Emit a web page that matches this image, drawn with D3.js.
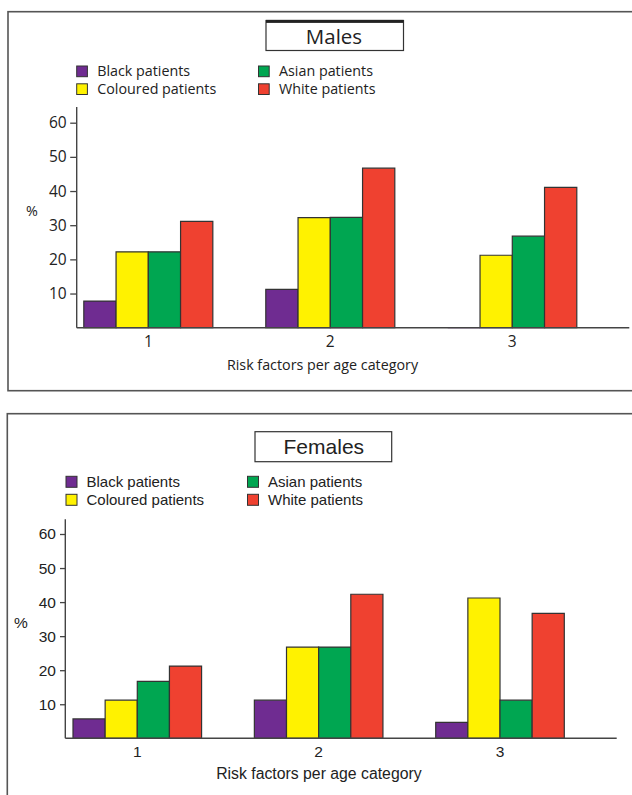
<!DOCTYPE html>
<html>
<head>
<meta charset="utf-8">
<script src="https://cdnjs.cloudflare.com/ajax/libs/d3/7.8.5/d3.min.js"></script>
<style>
  html, body { margin: 0; padding: 0; background: #fff; }
  svg { display: block; }
</style>
</head>
<body>
<svg id="chart" width="632" height="795"></svg>
<script>
// ---- data ----
const categories = ["1", "2", "3"];
const seriesNames = ["Black patients", "Coloured patients", "Asian patients", "White patients"];
const seriesColors = ["#6f2c91", "#fff200", "#00a651", "#ef4130"];
const yTicks = [10, 20, 30, 40, 50, 60];

const malesBlack    = [7.8, 11.2, 0];
const malesColoured = [22.2, 32.2, 21.2];
const malesAsian    = [22.2, 32.3, 26.8];
const malesWhite    = [31.1, 46.7, 41.1];

const femalesBlack    = [5.7, 11.2, 4.7];
const femalesColoured = [11.2, 26.8, 41.2];
const femalesAsian    = [16.7, 26.8, 11.2];
const femalesWhite    = [21.2, 42.3, 36.7];

const axisTitle = "Risk factors per age category";
const yLabel = "%";

// ---- drawing ----
const svg = d3.select("#chart");

function drawPanel(p) {
  const g = svg.append("g");
  const font = p.font;

  // frame (open on the right / bottom as in the original)
  g.append("rect")
    .attr("x", p.frame.x).attr("y", p.frame.y)
    .attr("width", p.frame.w).attr("height", p.frame.h)
    .attr("fill", "none").attr("stroke", "#555").attr("stroke-width", 1.6);

  // title box
  g.append("rect")
    .attr("x", p.title.x).attr("y", p.title.y)
    .attr("width", p.title.w).attr("height", p.title.h)
    .attr("fill", "#fff").attr("stroke", "#333").attr("stroke-width", 1.2);
  if (p.title.bar) {
    g.append("rect")
      .attr("x", p.title.x).attr("y", p.title.y - 0.6)
      .attr("width", p.title.w).attr("height", 3)
      .attr("fill", "#222");
  }
  g.append("text")
    .attr("x", p.title.tx).attr("y", p.title.ty)
    .attr("text-anchor", "middle")
    .attr("font-family", font).attr("font-size", p.title.size)
    .attr("fill", "#222")
    .text(p.title.text);

  // legend
  const legendItems = seriesNames.map((name, i) => ({
    name, color: seriesColors[i],
    col: i < 2 ? 0 : 1, row: i % 2
  }));
  const lg = g.selectAll("g.legend").data(legendItems).join("g")
    .attr("transform", d => `translate(${p.legend.x[d.col]},${p.legend.y[d.row]})`);
  lg.append("rect")
    .attr("x", 0).attr("y", 0)
    .attr("width", p.legend.box).attr("height", p.legend.box)
    .attr("fill", d => d.color).attr("stroke", "#333").attr("stroke-width", 1);
  lg.append("text")
    .attr("x", p.legend.tx).attr("y", p.legend.ty)
    .attr("font-family", font).attr("font-size", p.legend.size)
    .attr("fill", "#222")
    .text(d => d.name);

  // scales
  const x0 = d3.scaleBand().domain(categories)
    .range([p.groupStart, p.groupEnd]).paddingInner(p.padInner).paddingOuter(0);
  const x1 = d3.scaleBand().domain(seriesNames).range([0, x0.bandwidth()]).padding(0);
  const y = d3.scaleLinear().domain([0, 60]).range([p.base, p.top60]);

  // y axis
  const yAxis = g.append("g")
    .attr("transform", `translate(${p.axisX},0)`)
    .call(d3.axisLeft(y).tickValues(yTicks).tickSize(p.tickSize).tickPadding(p.tickPad).tickSizeOuter(0));
  yAxis.select(".domain").remove();
  yAxis.selectAll("line").attr("stroke", "#444").attr("stroke-width", 1.3);
  yAxis.selectAll("text")
    .attr("font-family", font).attr("font-size", p.tickFont).attr("fill", "#222");
  g.append("line")
    .attr("x1", p.axisX).attr("x2", p.axisX)
    .attr("y1", y(0)).attr("y2", p.axisTop)
    .attr("stroke", "#444").attr("stroke-width", 1.4);

  // bars
  const rows = [];
  categories.forEach((c, ci) => {
    p.series.forEach((vals, si) => {
      rows.push({ cat: c, name: seriesNames[si], color: seriesColors[si], value: vals[ci] });
    });
  });
  g.selectAll("path.bar").data(rows).join("path")
    .attr("class", "bar")
    .attr("d", d => {
      const xa = x0(d.cat) + x1(d.name);
      const xb = xa + x1.bandwidth();
      return `M${xa},${y(0)}V${y(d.value)}H${xb}V${y(0)}Z`;
    })
    .attr("fill", d => d.color)
    .attr("stroke", d => d.value === 0 ? d.color : "#333")
    .attr("stroke-width", 1.2);

  // x axis line
  g.append("line")
    .attr("x1", p.axisX).attr("x2", p.axisEnd)
    .attr("y1", y(0)).attr("y2", y(0))
    .attr("stroke", "#444").attr("stroke-width", 1.4);

  // x tick labels
  const xAxis = g.append("g")
    .attr("transform", `translate(0,${y(0)})`)
    .call(d3.axisBottom(x0).tickSize(0).tickPadding(p.xTickPad));
  xAxis.select(".domain").remove();
  xAxis.selectAll("text")
    .attr("font-family", font).attr("font-size", p.tickFont).attr("fill", "#222");

  // axis titles
  g.append("text")
    .attr("x", p.xTitle.x).attr("y", p.xTitle.y)
    .attr("text-anchor", "middle")
    .attr("font-family", font).attr("font-size", p.xTitle.size)
    .attr("fill", "#222")
    .text(axisTitle);
  g.append("text")
    .attr("x", p.yTitle.x).attr("y", p.yTitle.y)
    .attr("text-anchor", "middle")
    .attr("font-family", font).attr("font-size", p.yTitle.size)
    .attr("fill", "#222")
    .text(yLabel);
}

drawPanel({
  font: "'Open Sans', sans-serif",
  frame: { x: 8, y: 11.7, w: 640, h: 379 },
  title: { x: 266, y: 20.5, w: 137.5, h: 30, bar: true, text: "Males", tx: 334, ty: 44, size: 20.5 },
  legend: { x: [76.7, 258.5], y: [66, 83.8], box: 10.7, tx: 20.5, ty: 10.3, size: 14.3 },
  series: [malesBlack, malesColoured, malesAsian, malesWhite],
  groupStart: 83.8, groupEnd: 576.8, padInner: 0.291,
  base: 327.7, top60: 122.7, axisTop: 107, axisX: 76.7, axisEnd: 629.3,
  tickSize: 6.5, tickPad: 3.5, tickFont: 15.5, xTickPad: 8,
  xTitle: { x: 322.5, y: 369.5, size: 14.3 },
  yTitle: { x: 32, y: 216, size: 14.3 }
});

drawPanel({
  font: "'Liberation Sans', Arial, sans-serif",
  frame: { x: 7.3, y: 413.7, w: 640, h: 400 },
  title: { x: 255, y: 431.7, w: 136.7, h: 30, bar: false, text: "Females", tx: 323.8, ty: 453.5, size: 21 },
  legend: { x: [66, 247.5], y: [476.3, 494.3], box: 11, tx: 20.5, ty: 11, size: 15 },
  series: [femalesBlack, femalesColoured, femalesAsian, femalesWhite],
  groupStart: 73, groupEnd: 564.3, padInner: 0.291,
  base: 738.3, top60: 534, axisTop: 519.3, axisX: 65.3, axisEnd: 616.7,
  tickSize: 5.3, tickPad: 4, tickFont: 15.5, xTickPad: 8,
  xTitle: { x: 318.9, y: 779, size: 15.8 },
  yTitle: { x: 21, y: 628, size: 15.5 }
});
</script>
</body>
</html>
